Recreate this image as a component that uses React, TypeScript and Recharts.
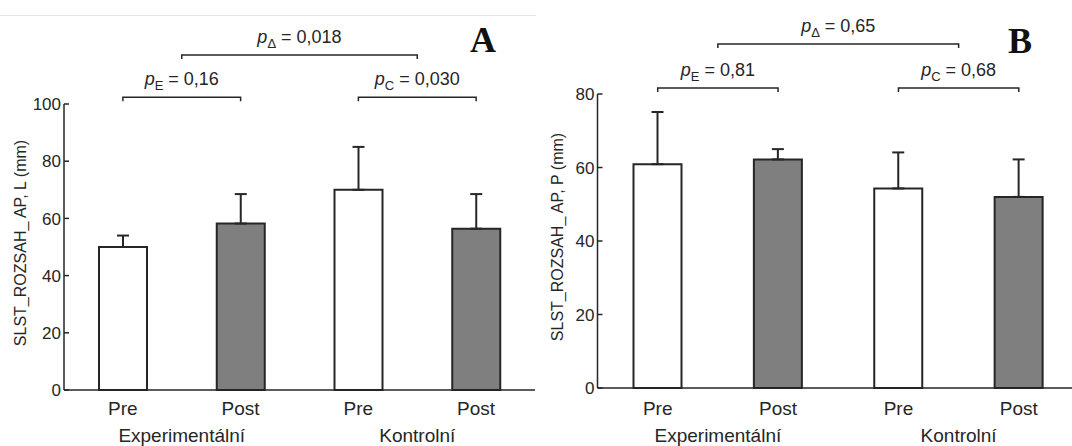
import React from 'react';
import { BarChart, Bar, XAxis, YAxis, ErrorBar, ReferenceLine, Cell, Label } from 'recharts';

// measurement groups (x axis)
const categories = ['Pre', 'Post', 'Pre', 'Post'];
const groups = ['Experimentální', 'Kontrolní'];
const groupTicks = [0.5, 2.5];
const barFills = ['#ffffff', '#7f7f7f', '#ffffff', '#7f7f7f'];

// panel A – SLST_ROZSAH_ AP, L
const meanA = [50, 58.2, 70, 56.4];
const sdA = [4, 10.3, 15, 12.1];
const yTicksA = [0, 20, 40, 60, 80, 100];
const pA = ['0,16', '0,018', '0,030'];
const levelsA = [102.4, 117.1, 102.4];

// panel B – SLST_ROZSAH_ AP, P
const meanB = [60.9, 62.2, 54.3, 52];
const sdB = [14.2, 2.8, 9.8, 10.2];
const yTicksB = [0, 20, 40, 60, 80];
const pB = ['0,81', '0,65', '0,68'];
const levelsB = [81.6, 93.6, 81.6];

// comparisons: Pre vs Post (E), group difference (Δ), Pre vs Post (C)
const pSubs = ['E', 'Δ', 'C'];
const spans = [[0, 1], [0.5, 2.5], [2, 3]];

const INK = '#262626';

const YTick = (props: any) => {
  const { x, y, payload } = props;
  return (
    <g>
      <line x1={x + 3} x2={x + 8} y1={y} y2={y} stroke={INK} strokeWidth={1.5} />
      <text x={x} y={y} dy="0.36em" textAnchor="end" fontSize={17} fill={INK}>
        {payload.value}
      </text>
    </g>
  );
};

const bracket = (sub: string, value: string) => (props: any) => {
  const { x1, y1, x2 } = props;
  return (
    <g>
      <path
        d={`M${x1},${y1 + 4}V${y1}H${x2}V${y1 + 4}`}
        fill="none"
        stroke={INK}
        strokeWidth={1.5}
      />
      <text x={(x1 + x2) / 2} y={y1 - 12} textAnchor="middle" fontSize={18} fill={INK}>
        <tspan fontStyle="italic">p</tspan>
        <tspan fontSize={13} dy={5}>{sub}</tspan>
        <tspan dy={-5}>{` = ${value}`}</tspan>
      </text>
    </g>
  );
};

interface PanelProps {
  means: number[];
  sds: number[];
  yTicks: number[];
  pValues: string[];
  levels: number[];
  yLabel: string;
  left: number;
  width: number;
  margin: { top: number; right: number; bottom: number; left: number };
  catMargin: number;
  groupMargin: number;
  labelX: number;
}

const Panel: React.FC<PanelProps> = (p) => {
  const rows = p.means.map((m, i) => ({ key: `k${i}`, idx: i, value: m, err: [0, p.sds[i]] }));
  const yMax = p.yTicks[p.yTicks.length - 1];

  return (
    <div style={{ position: 'absolute', left: p.left, top: 0 }}>
      <BarChart width={p.width} height={446} data={rows} margin={p.margin} barSize={48}>
        <XAxis
          xAxisId="c"
          dataKey="key"
          interval={0}
          tickFormatter={(_: any, i: number) => categories[i]}
          axisLine={{ stroke: INK, strokeWidth: 1.5 }}
          tickLine={false}
          tickSize={0}
          tickMargin={p.catMargin}
          height={28}
          tick={{ fill: INK, fontSize: 19 }}
        />
        <XAxis
          xAxisId="n"
          type="number"
          dataKey="idx"
          domain={[-0.5, 3.5]}
          allowDataOverflow
          ticks={groupTicks}
          interval={0}
          tickFormatter={(v: number) => groups[groupTicks.indexOf(v)]}
          axisLine={false}
          tickLine={false}
          tickSize={0}
          tickMargin={p.groupMargin}
          height={28}
          tick={{ fill: INK, fontSize: 19 }}
        />
        <YAxis
          domain={[0, yMax]}
          ticks={p.yTicks}
          interval={0}
          width={50}
          axisLine={{ stroke: INK, strokeWidth: 1.5 }}
          tickLine={false}
          tickSize={0}
          tickMargin={3}
          tick={<YTick />}
        >
          <Label
            content={(lp: any) => {
              const vb = lp.viewBox;
              const cy = vb.y + vb.height / 2 - 4;
              return (
                <text
                  x={p.labelX}
                  y={cy}
                  transform={`rotate(-90 ${p.labelX} ${cy})`}
                  textAnchor="middle"
                  dominantBaseline="central"
                  fontSize={16}
                  fill={INK}
                >
                  {p.yLabel}
                </text>
              );
            }}
          />
        </YAxis>
        <Bar xAxisId="c" dataKey="value" stroke={INK} strokeWidth={2} isAnimationActive={false}>
          {rows.map((r, i) => (
            <Cell key={r.key} fill={barFills[i]} />
          ))}
          <ErrorBar dataKey="err" direction="y" width={6} stroke={INK} strokeWidth={2} isAnimationActive={false} />
        </Bar>
        {spans.map((s, i) => (
          <ReferenceLine
            key={i}
            xAxisId="n"
            ifOverflow="visible"
            segment={[
              { x: s[0], y: p.levels[i] },
              { x: s[1], y: p.levels[i] },
            ]}
            shape={bracket(pSubs[i], p.pValues[i])}
          />
        ))}
      </BarChart>
    </div>
  );
};

export default function App() {
  return (
    <div
      style={{
        position: 'absolute',
        left: 0,
        top: 0,
        width: 1072,
        height: 446,
        overflow: 'hidden',
        background: '#fff',
        fontFamily: '"Liberation Sans", Arial, sans-serif',
      }}
    >
      <div style={{ position: 'absolute', left: 0, top: 15, width: 536, height: 1, background: '#e4e4e4' }} />
      <Panel
        means={meanA}
        sds={sdA}
        yTicks={yTicksA}
        pValues={pA}
        levels={levelsA}
        yLabel="SLST_ROZSAH_ AP, L (mm)"
        left={0}
        width={536}
        margin={{ top: 104, right: 1, bottom: 0, left: 14 }}
        catMargin={12}
        groupMargin={11}
        labelX={20}
      />
      <Panel
        means={meanB}
        sds={sdB}
        yTicks={yTicksB}
        pValues={pB}
        levels={levelsB}
        yLabel="SLST_ROZSAH_ AP, P (mm)"
        left={536}
        width={545}
        margin={{ top: 94, right: 2, bottom: 2, left: 11.5 }}
        catMargin={14}
        groupMargin={13}
        labelX={21}
      />
      <svg width={1072} height={446} style={{ position: 'absolute', left: 0, top: 0, pointerEvents: 'none' }}>
        <text x={483} y={52} textAnchor="middle" fontSize={36} fontWeight="bold" fontFamily='"Liberation Serif", serif' fill="#111">
          A
        </text>
        <text x={1020} y={53} textAnchor="middle" fontSize={36} fontWeight="bold" fontFamily='"Liberation Serif", serif' fill="#111">
          B
        </text>
      </svg>
    </div>
  );
}
